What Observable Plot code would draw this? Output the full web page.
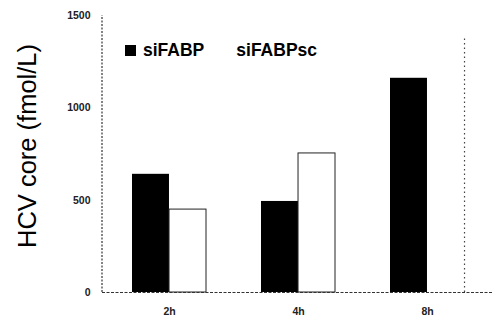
<!DOCTYPE html>
<html><head><meta charset="utf-8">
<script src="https://cdn.jsdelivr.net/npm/d3@7"></script>
<script src="https://cdn.jsdelivr.net/npm/@observablehq/plot@0.6"></script>
<style>
body{margin:0;background:#fff}
#chart{position:relative;width:493px;height:321px}
.legend{position:absolute;left:125px;top:40px;font:bold 17.5px 'Liberation Sans',Arial,sans-serif;display:flex;align-items:center;color:#000}
.sw{display:inline-block;width:11px;height:11px;background:#000;margin-right:7px}
.item{display:flex;align-items:center;margin-right:32px}
</style></head><body><div id="chart"></div>
<script>
const times = ["2h", "4h", "8h"];
const series = ["siFABP", "siFABPsc"];
const siFABP = [640, 493, 1160];
const siFABPsc = [449, 753, 1380];
const yTicks = [0, 500, 1000, 1500];
const yLabel = "HCV core (fmol/L)";

const data = times.flatMap((t, i) => [
  {time: t, series: series[0], value: siFABP[i]},
  {time: t, series: series[1], value: siFABPsc[i]}
]);

const W = 493, H = 321, mL = 102, mR = 0, mT = 15, mB = 29;
const pIn = 0.43, pOut = 0.22;
const bw = d3.scaleBand().domain(times).range([mL, W - mR]).paddingInner(pIn).paddingOuter(pOut).bandwidth();
const half = bw / 2;

const faint = d => d.series === series[1] && d.time === "8h";

const plot = Plot.plot({
  width: W, height: H,
  marginLeft: mL, marginRight: mR, marginTop: mT, marginBottom: mB,
  style: {fontFamily: "'Liberation Sans', Arial, sans-serif", fontSize: "10.5px", fontWeight: "bold", color: "#222", background: "#fff"},
  x: {domain: times, paddingInner: pIn, paddingOuter: pOut, tickSize: 0, tickPadding: 15, label: null},
  y: {domain: [0, 1500], ticks: yTicks, tickFormat: d => String(d), tickSize: 0, tickPadding: 12, label: null},
  marks: [
    Plot.barY(data.filter(d => d.series === series[0]), {x: "time", y: "value", fill: "#000", insetRight: half}),
    Plot.barY(data.filter(d => d.series === series[1] && !faint(d)), {x: "time", y: "value", fill: "#fff", stroke: "#222", strokeWidth: 1, insetLeft: half}),
    Plot.ruleX(data.filter(faint), {x: "time", y1: 0, y2: "value", dx: half, stroke: "#444", strokeWidth: 1.2, strokeDasharray: "1.5,3"}),
    Plot.ruleY([0], {stroke: "#333", strokeWidth: 1.2, strokeDasharray: "3,1.5"})
  ]
});

const ys = plot.scale("y");
const svg = d3.select(plot);
svg.append("line")
  .attr("x1", mL).attr("x2", mL)
  .attr("y1", ys.range[0]).attr("y2", ys.range[1])
  .attr("stroke", "#333").attr("stroke-width", 1.2).attr("stroke-dasharray", "2,1.5");
svg.append("text")
  .attr("transform", `translate(36,146) rotate(-90)`)
  .attr("text-anchor", "middle")
  .style("font-size", "25.5px").style("font-weight", "normal").attr("fill", "#000")
  .text(yLabel);

const chart = document.getElementById("chart");
chart.appendChild(plot);
const lg = document.createElement("div");
lg.className = "legend";
lg.innerHTML = `<span class="item"><span class="sw"></span>${series[0]}</span><span class="item">${series[1]}</span>`;
chart.appendChild(lg);
</script></body></html>
